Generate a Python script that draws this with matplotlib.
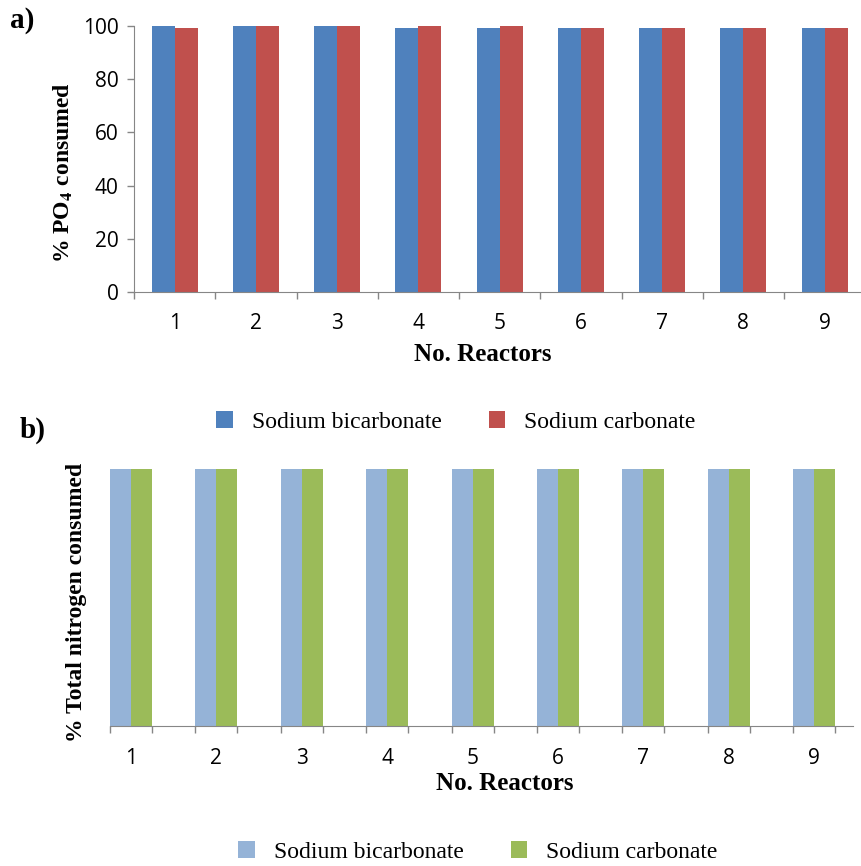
import matplotlib.pyplot as plt
import numpy as np

plt.rcParams.update({
    "font.family": "Liberation Serif",
    "mathtext.fontset": "stix",
})

## data
reactors = ["1", "2", "3", "4", "5", "6", "7", "8", "9"]

po4_bicarb = [100, 100, 100, 99.3, 99.3, 99.3, 99.3, 99.3, 99.3]
po4_carb = [99.2, 100, 100, 100, 100, 99.3, 99.3, 99.3, 99.3]

tn_bicarb = [100, 100, 100, 100, 100, 100, 100, 100, 100]
tn_carb = [100, 100, 100, 100, 100, 100, 100, 100, 100]

series_names = ["Sodium bicarbonate", "Sodium carbonate"]

## style
W, H = 862, 866
tick_font = "Open Sans"
fs_tick = 15
fs_lab = 17
fs_xlab = 18
fs_leg = 17
grey = "#868686"
colors_a = ["#4F81BD", "#C0504D"]
colors_b = ["#95B3D7", "#9BBB59"]

x = np.arange(len(reactors))

fig = plt.figure(figsize=(W / 100, H / 100), dpi=100)


def fx(px):
    return px / W


def fy(py):
    return 1 - py / H


##----- a) PO4 -----##
wa = 0.283
ax1_w = 9 * 81.25
ax1 = fig.add_axes([fx(134), fy(292), fx(ax1_w), (292 - 26) / H])
b1 = ax1.bar(x - wa / 2, po4_bicarb, wa, color=colors_a[0], label=series_names[0])
b2 = ax1.bar(x + wa / 2, po4_carb, wa, color=colors_a[1], label=series_names[1])
ax1.set_xlim(-0.5, 8.5)
ax1.set_ylim(0, 100)
ax1.set_yticks(np.arange(0, 101, 20))
ax1.set_xticks(x, reactors)
ax1.set_xticks(np.arange(-0.5, 9, 1), minor=True)
ax1.tick_params(axis="x", which="major", length=0, pad=15)
ax1.tick_params(axis="x", which="minor", length=5, width=1, color=grey, direction="out")
ax1.tick_params(axis="y", length=5, width=1, color=grey, direction="out", pad=6)
for lab in ax1.get_xticklabels() + ax1.get_yticklabels():
    lab.set_fontfamily(tick_font)
    lab.set_fontsize(fs_tick)
for s in ["top", "right"]:
    ax1.spines[s].set_visible(False)
for s in ["left", "bottom"]:
    ax1.spines[s].set_color(grey)

ax1.set_ylabel(r"% PO$_\mathbf{4}$ consumed", fontsize=fs_lab, weight="bold")
ax1.yaxis.set_label_coords(-(134 - 75) / ax1_w, (292 - 173) / 266)
ax1.set_xlabel("No. Reactors", fontsize=fs_xlab, weight="bold")
ax1.xaxis.set_label_coords((483 - 134) / ax1_w, -(343 - 292) / 266)

fig.legend(handles=[b1, b2], loc="center", bbox_to_anchor=(fx(456), fy(422)), ncol=2,
           frameon=False, fontsize=fs_leg, handlelength=0.7, handleheight=0.7,
           handletextpad=0.8, columnspacing=2.0)

fig.text(fx(10), fy(20), "a)", fontsize=21, weight="bold", va="center", ha="left")

##----- b) Total nitrogen -----##
wb = 0.246
ax2_w = 742.6
ax2 = fig.add_axes([fx(110), fy(726), fx(ax2_w), (726 - 469) / H])
c1 = ax2.bar(x - wb / 2, tn_bicarb, wb, color=colors_b[0], label=series_names[0])
c2 = ax2.bar(x + wb / 2, tn_carb, wb, color=colors_b[1], label=series_names[1])
ax2.set_xlim(-wb, 8.45)
ax2.set_ylim(0, 100)
ax2.set_yticks([])
ax2.set_xticks(x, reactors)
ax2.set_xticks(np.concatenate([x - wb, x + wb]), minor=True)
ax2.tick_params(axis="x", which="major", length=0, pad=16)
ax2.tick_params(axis="x", which="minor", length=5, width=1, color=grey, direction="out")
for lab in ax2.get_xticklabels():
    lab.set_fontfamily(tick_font)
    lab.set_fontsize(fs_tick)
for s in ["top", "right", "left"]:
    ax2.spines[s].set_visible(False)
ax2.spines["bottom"].set_color(grey)

ax2.set_ylabel("% Total nitrogen consumed", fontsize=fs_lab, weight="bold")
ax2.yaxis.set_label_coords(-(110 - 87) / ax2_w, (726 - 602) / 257)
ax2.set_xlabel("No. Reactors", fontsize=fs_xlab, weight="bold")
ax2.xaxis.set_label_coords((505 - 110) / ax2_w, -(772 - 726) / 257)

fig.legend(handles=[c1, c2], loc="center", bbox_to_anchor=(fx(478), fy(852)), ncol=2,
           frameon=False, fontsize=fs_leg, handlelength=0.7, handleheight=0.7,
           handletextpad=0.8, columnspacing=2.0)

fig.text(fx(20), fy(430), "b)", fontsize=21, weight="bold", va="center", ha="left")

fig.savefig("out.png", dpi=100)
